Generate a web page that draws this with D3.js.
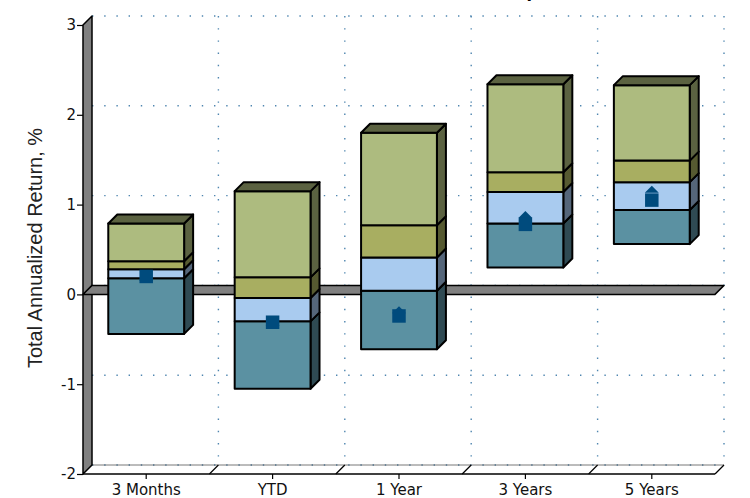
<!DOCTYPE html>
<html>
<head>
<meta charset="utf-8">
<script src="https://cdn.jsdelivr.net/npm/d3@7/dist/d3.min.js"></script>
<style>
  html, body { margin: 0; padding: 0; background: #ffffff; }
  svg { display: block; }
</style>
</head>
<body>
<svg id="chart" width="750" height="498"></svg>
<script>
// Peer-group percentile ranges with fund and benchmark returns
const categories = ["3 Months", "YTD", "1 Year", "3 Years", "5 Years"];
const pct05 = [-0.44, -1.05, -0.61, 0.30, 0.56];
const pct25 = [0.18, -0.30, 0.04, 0.79, 0.94];
const pct50 = [0.28, -0.04, 0.41, 1.14, 1.25];
const pct75 = [0.37, 0.19, 0.77, 1.36, 1.49];
const pct95 = [0.79, 1.15, 1.80, 2.34, 2.33];
const fundReturn = [0.20, -0.31, -0.24, 0.78, 1.05];
const benchReturn = [0.19, -0.31, -0.17, 0.89, 1.17];
const yTicks = [-2, -1, 0, 1, 2, 3];
const titleText = "Performance vs. Peer Group";
const yTitle = "Total Annualized Return, %";

const svg = d3.select("#chart");
const DX = 9, DY = -9; // depth offset of the 3D box

const y = d3.scaleLinear().domain([-2, 3]).range([474, 25]);
const x = d3.scaleBand().domain(categories).range([83, 715])
  .paddingInner(0.4).paddingOuter(0.2);

const left = x.range()[0], right = x.range()[1];
const step = x.step();
const poly = pts => "M" + pts.map(p => p.join(",")).join("L") + "Z";

// title (sits above the top edge; only its descenders reach the page)
svg.append("text")
  .attr("x", 538).attr("y", -2)
  .attr("text-anchor", "end")
  .attr("font-family", "DejaVu Sans, Verdana, sans-serif")
  .attr("font-weight", "bold").attr("font-size", 16)
  .attr("fill", "#000").text(titleText);

// back-wall dotted grid
const grid = svg.append("g")
  .attr("stroke", "#4f86b0").attr("stroke-width", 1.4)
  .attr("stroke-dasharray", "1.4 10.8").attr("fill", "none");
yTicks.forEach(v => {
  grid.append("line")
    .attr("x1", left + DX).attr("x2", right + DX)
    .attr("y1", y(v) + DY).attr("y2", y(v) + DY);
});
d3.range(1, categories.length + 1).forEach(i => {
  const bx = left + i * step + DX;
  grid.append("line")
    .attr("x1", bx).attr("x2", bx)
    .attr("y1", y(3) + DY).attr("y2", y(-2) + DY);
});

// floor edges
svg.append("line")
  .attr("x1", left + DX).attr("x2", right + DX)
  .attr("y1", y(-2) + DY).attr("y2", y(-2) + DY)
  .attr("stroke", "#555").attr("stroke-width", 0.8);
svg.append("line")
  .attr("x1", left).attr("x2", right)
  .attr("y1", y(-2)).attr("y2", y(-2))
  .attr("stroke", "#000").attr("stroke-width", 1.5);
d3.range(1, categories.length + 1).forEach(i => {
  const bx = left + i * step;
  svg.append("line")
    .attr("x1", bx).attr("y1", y(-2))
    .attr("x2", bx + DX).attr("y2", y(-2) + DY)
    .attr("stroke", "#000").attr("stroke-width", 1.2);
});

// left wall
svg.append("path")
  .attr("d", poly([[left, y(3)], [left + DX, y(3) + DY], [left + DX, y(-2) + DY], [left, y(-2)]]))
  .attr("fill", "#808080").attr("stroke", "#000").attr("stroke-width", 1.5)
  .attr("stroke-linejoin", "round");

// zero plane
svg.append("path")
  .attr("d", poly([[left, y(0)], [left + DX, y(0) + DY], [right + DX, y(0) + DY], [right, y(0)]]))
  .attr("fill", "#808080").attr("stroke", "#000").attr("stroke-width", 1.5)
  .attr("stroke-linejoin", "round");

// y axis
const yAxis = d3.axisLeft(y).tickValues(yTicks).tickSize(6).tickPadding(1)
  .tickFormat(d => String(d));
const gy = svg.append("g").attr("transform", `translate(${left},0)`).call(yAxis);
gy.select(".domain").remove();
gy.selectAll("line").attr("stroke", "#000").attr("stroke-width", 1.2);
gy.selectAll("text").attr("font-family", "DejaVu Sans, Verdana, sans-serif")
  .attr("font-size", 15).attr("fill", "#111");

// x axis
const xAxis = d3.axisBottom(x).tickSize(5).tickPadding(5);
const gx = svg.append("g").attr("transform", `translate(0,${y(-2)})`).call(xAxis);
gx.select(".domain").remove();
gx.selectAll("line").attr("stroke", "#000").attr("stroke-width", 1.2);
gx.selectAll("text").attr("font-family", "DejaVu Sans, Verdana, sans-serif")
  .attr("font-size", 15).attr("fill", "#111");

// y axis title
svg.append("text")
  .attr("transform", "translate(42,248) rotate(-90)")
  .attr("text-anchor", "middle")
  .attr("font-family", "Liberation Sans, Arial, sans-serif")
  .attr("font-size", 20).attr("fill", "#222")
  .text(yTitle);

// stacked percentile boxes
const segFront = ["#5b91a2", "#a9cbef", "#a8ae61", "#adbb7f"];
const segSide = ["#2f4a53", "#55667a", "#565a31", "#5b6241"];
const topColor = "#5b6241";
const bounds = [pct05, pct25, pct50, pct75, pct95];

const bars = svg.append("g")
  .attr("stroke", "#000").attr("stroke-width", 2).attr("stroke-linejoin", "round");
categories.forEach((c, i) => {
  const x0 = x(c), w = x.bandwidth(), x1 = x0 + w;
  for (let s = 0; s < 4; s++) {
    const lo = bounds[s][i], hi = bounds[s + 1][i];
    bars.append("path")
      .attr("d", poly([[x1, y(hi)], [x1 + DX, y(hi) + DY], [x1 + DX, y(lo) + DY], [x1, y(lo)]]))
      .attr("fill", segSide[s]);
    bars.append("rect")
      .attr("x", x0).attr("y", y(hi))
      .attr("width", w).attr("height", y(lo) - y(hi))
      .attr("fill", segFront[s]);
  }
  const t = pct95[i];
  bars.append("path")
    .attr("d", poly([[x0, y(t)], [x0 + DX, y(t) + DY], [x1 + DX, y(t) + DY], [x1, y(t)]]))
    .attr("fill", topColor);
});

// markers: benchmark (roof triangle) and fund (square)
const markColor = "#004b7d";
const triW = 14, triH = 7;
svg.append("g").selectAll("path").data(categories).join("path")
  .attr("d", (c, i) => {
    const cx = x(c) + x.bandwidth() / 2, cy = y(benchReturn[i]);
    return poly([[cx - triW / 2, cy + triH / 2], [cx, cy - triH / 2], [cx + triW / 2, cy + triH / 2]]);
  })
  .attr("fill", markColor);
const sq = d3.symbol(d3.symbolSquare, 13.5 * 13.5);
svg.append("g").selectAll("path").data(categories).join("path")
  .attr("transform", (c, i) => `translate(${x(c) + x.bandwidth() / 2},${y(fundReturn[i])})`)
  .attr("d", sq)
  .attr("fill", markColor);
</script>
</body>
</html>
